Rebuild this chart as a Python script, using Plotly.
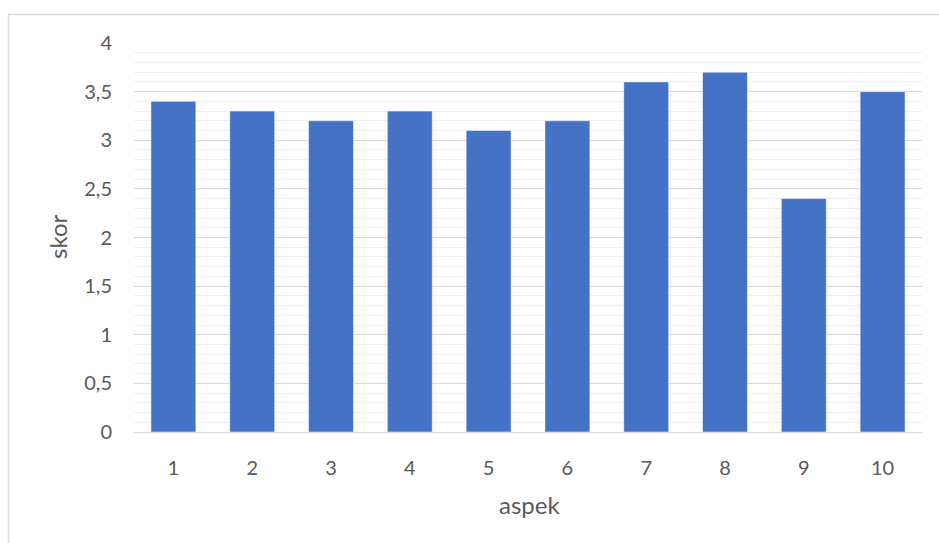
import plotly.graph_objects as go

W, H = 939, 543

aspek = ["1", "2", "3", "4", "5", "6", "7", "8", "9", "10"]
skor = [3.4, 3.3, 3.2, 3.3, 3.1, 3.2, 3.6, 3.7, 2.4, 3.5]
y_ticks = [0, 0.5, 1, 1.5, 2, 2.5, 3, 3.5, 4]

# plot area in pixels
PL, PR, PT, PB = 134, 922, 43, 432

fig = go.Figure(
    go.Bar(
        x=aspek,
        y=skor,
        marker=dict(color="#4472C4", line=dict(color="rgba(255,255,255,0.5)", width=1)),
        width=0.57,
    )
)

font_fam = "Lato, 'Open Sans', sans-serif"
txt = "#595959"

fig.update_layout(
    template="none",
    width=W,
    height=H,
    margin=dict(l=0, r=0, t=0, b=0),
    paper_bgcolor="white",
    plot_bgcolor="white",
    separators=", ",
    showlegend=False,
    font=dict(family=font_fam, size=20, color=txt),
    xaxis=dict(
        domain=[PL / W, PR / W],
        type="category",
        showgrid=False,
        showline=True,
        linecolor="#d9d9d9",
        linewidth=1,
        ticks="",
        ticklabelstandoff=18,
        automargin=False,
        tickfont=dict(size=20, color=txt),
    ),
    yaxis=dict(
        domain=[1 - PB / H, 1 - PT / H],
        range=[0, 4],
        tickvals=y_ticks,
        showgrid=True,
        gridcolor="#d9d9d9",
        gridwidth=1,
        zeroline=False,
        showline=False,
        ticks="",
        ticklabelstandoff=21,
        automargin=False,
        tickfont=dict(size=20, color=txt),
        minor=dict(dtick=0.1, showgrid=True, gridcolor="#f0f0f0", gridwidth=1),
    ),
    annotations=[
        dict(text="skor", x=57 / W, y=1 - 237 / H, xref="paper", yref="paper",
             textangle=-90, showarrow=False, font=dict(size=24, color=txt),
             xanchor="center", yanchor="middle"),
        dict(text="aspek", x=529 / W, y=1 - 504 / H, xref="paper", yref="paper",
             showarrow=False, font=dict(size=24, color=txt),
             xanchor="center", yanchor="middle"),
    ],
    shapes=[
        dict(type="rect", xref="paper", yref="paper",
             x0=8.5 / W, x1=1.02, y0=-0.02, y1=1 - 14.5 / H,
             line=dict(color="#d9d9d9", width=1.5), fillcolor="rgba(0,0,0,0)",
             layer="below"),
    ],
)

fig.write_html("out.html")
